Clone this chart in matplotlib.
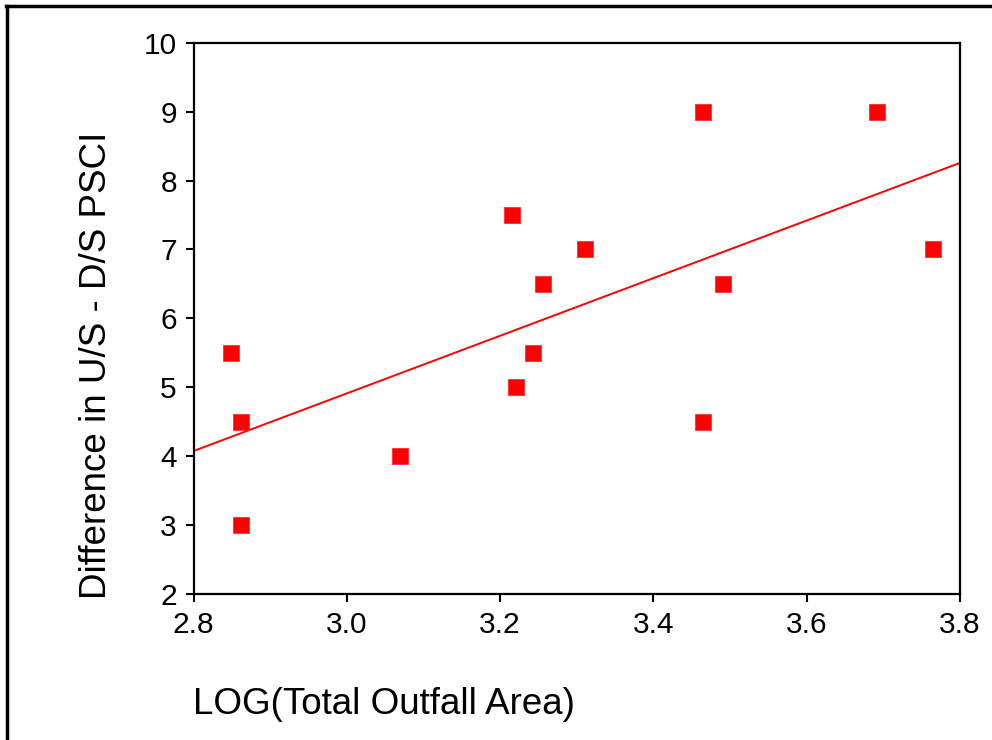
import numpy as np
import matplotlib
matplotlib.use("Agg")
import matplotlib.pyplot as plt
from matplotlib.lines import Line2D

plt.rcParams['font.family'] = ['Liberation Sans', 'DejaVu Sans']

log_area = [2.849, 2.862, 2.862, 3.069, 3.215, 3.221, 3.243, 3.256, 3.311,
            3.465, 3.465, 3.491, 3.692, 3.765]
psci_diff = [5.5, 4.5, 3.0, 4.0, 7.5, 5.0, 5.5, 6.5, 7.0, 9.0, 4.5, 6.5, 9.0, 7.0]
xticks = [2.8, 3.0, 3.2, 3.4, 3.6, 3.8]
yticks = [2, 3, 4, 5, 6, 7, 8, 9, 10]

W, H = 992, 740
fig = plt.figure(figsize=(W / 100, H / 100), dpi=100)
ax = fig.add_axes([193.5 / W, 1 - 594 / H, (960 - 193.5) / W, (594 - 42.7) / H])

ax.scatter(log_area, psci_diff, marker='s', s=12.2 ** 2, color='#ff0000',
           edgecolors='#ff2020', linewidths=0.5, zorder=3)

coef = np.polyfit(log_area, psci_diff, 1)
xl = np.array([xticks[0], xticks[-1]])
ax.plot(xl, np.polyval(coef, xl), color='#ff0000', lw=1.4, zorder=2)

ax.set_xlim(xticks[0], xticks[-1])
ax.set_ylim(yticks[0], yticks[-1])
ax.set_xticks(xticks)
ax.set_xticklabels([f"{v:.1f}" for v in xticks])
ax.set_yticks(yticks)
ax.tick_params(direction='out', length=6, width=1.5, labelsize=21.5, pad=6,
               colors='black')
for s in ax.spines.values():
    s.set_linewidth(1.6)

fig.text(193 / W, 1 - 705 / H, "LOG(Total Outfall Area)", fontsize=26.5,
         ha='left', va='center')
fig.text(97 / W, 1 - 365 / H, "Difference in U/S - D/S PSCI", fontsize=26.5,
         rotation=90, ha='center', va='center')

# figure frame (top and left edges)
fig.add_artist(Line2D([6 / W, 1], [1 - 5.5 / H, 1 - 5.5 / H], color='black',
                      lw=2.5, transform=fig.transFigure))
fig.add_artist(Line2D([6.5 / W, 6.5 / W], [0, 1 - 5.5 / H], color='black',
                      lw=2.5, transform=fig.transFigure))

fig.savefig("out.png", dpi=100)
